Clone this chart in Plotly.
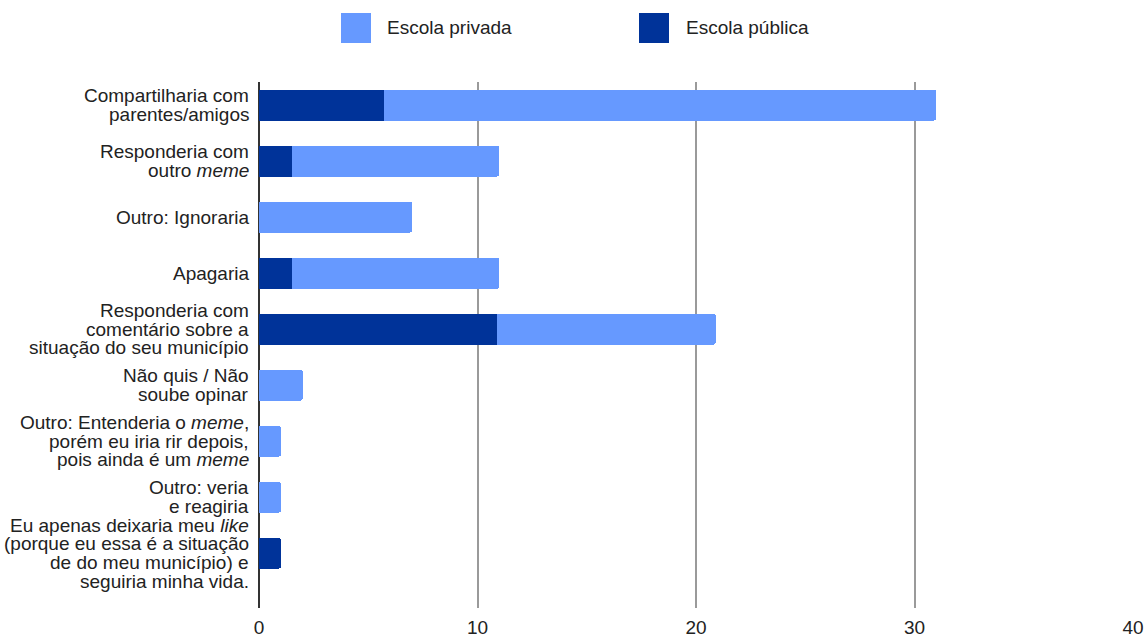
import plotly.graph_objects as go

categories = [
    "Compartilharia com<br>parentes/amigos",
    "Responderia com<br>outro <i>meme</i>",
    "Outro: Ignoraria",
    "Apagaria",
    "Responderia com<br>comentário sobre a<br>situação do seu município",
    "Não quis / Não<br>soube opinar",
    "Outro: Entenderia o <i>meme</i>,<br>porém eu iria rir depois,<br>pois ainda é um <i>meme</i>",
    "Outro: veria<br>e reagiria",
    "Eu apenas deixaria meu <i>like</i><br>(porque eu essa é a situação<br>de do meu município) e<br>seguiria minha vida.",
]
publica = [5.7, 1.5, 0, 1.5, 10.9, 0, 0, 0, 1]
privada = [25.3, 9.5, 7, 9.5, 10, 2, 1, 1, 0]
x_ticks = [0, 10, 20, 30, 40]

LIGHT = "#6699ff"
DARK = "#003399"
FONT = "Liberation Sans, Arial, sans-serif"
TXT = "#222222"

W, H = 1146, 634
ML, MR, MT, MB = 259, 13, 82, 26

fig = go.Figure()
fig.add_trace(go.Bar(y=categories, x=publica, orientation="h", name="Escola pública",
                     marker=dict(color=DARK, line=dict(width=0)), showlegend=False))
fig.add_trace(go.Bar(y=categories, x=privada, orientation="h", name="Escola privada",
                     marker=dict(color=LIGHT, line=dict(width=0)), showlegend=False))

fig.update_layout(
    barmode="stack",
    bargap=0.446,
    barcornerradius=2,
    width=W, height=H,
    margin=dict(l=ML, r=MR, t=MT, b=MB, autoexpand=False),
    paper_bgcolor="white", plot_bgcolor="white",
    font=dict(family=FONT, size=18, color=TXT),
    xaxis=dict(range=[0, 40], tickvals=x_ticks, showgrid=True, gridcolor="#9a9a9a", gridwidth=1.5,
               zeroline=True, zerolinecolor="#333333", zerolinewidth=2, ticks="", showline=False,
               automargin=False, ticklabelstandoff=6,
               tickfont=dict(size=19, color=TXT)),
    yaxis=dict(range=[8.98, -0.411], ticks="", showgrid=False, showticklabels=False,
               automargin=False),
)

# category labels with tight line spacing
PITCH = 18.7
for cat in categories:
    lines = cat.split("<br>")
    n = len(lines)
    for i, ln in enumerate(lines):
        fig.add_annotation(text=ln, xref="paper", yref="y", x=0, y=cat,
                           xanchor="right", yanchor="middle", xshift=-9,
                           yshift=((n - 1) / 2 - i) * PITCH, showarrow=False,
                           borderpad=0,
                           font=dict(size=19, color=TXT, family=FONT))

# custom legend (large squares)
legend_items = [("Escola privada", LIGHT, 341, 385), ("Escola pública", DARK, 639, 684)]
PW, PH = W - ML - MR, H - MT - MB
for name, col, sx, tx in legend_items:
    fig.add_shape(type="rect", xref="paper", yref="paper",
                  x0=(sx - ML) / PW, x1=(sx + 30 - ML) / PW,
                  y0=(H - MB - 43) / PH, y1=(H - MB - 13) / PH,
                  fillcolor=col, line=dict(width=0), layer="above")
    fig.add_annotation(text=name, xref="paper", yref="paper",
                       x=(tx - ML) / PW, y=(H - MB - 28) / PH,
                       xanchor="left", yanchor="middle", showarrow=False,
                       font=dict(size=19, color=TXT, family=FONT))

fig.write_html("out.html", config={"displayModeBar": False},
               post_script="document.body.style.margin='0';")
